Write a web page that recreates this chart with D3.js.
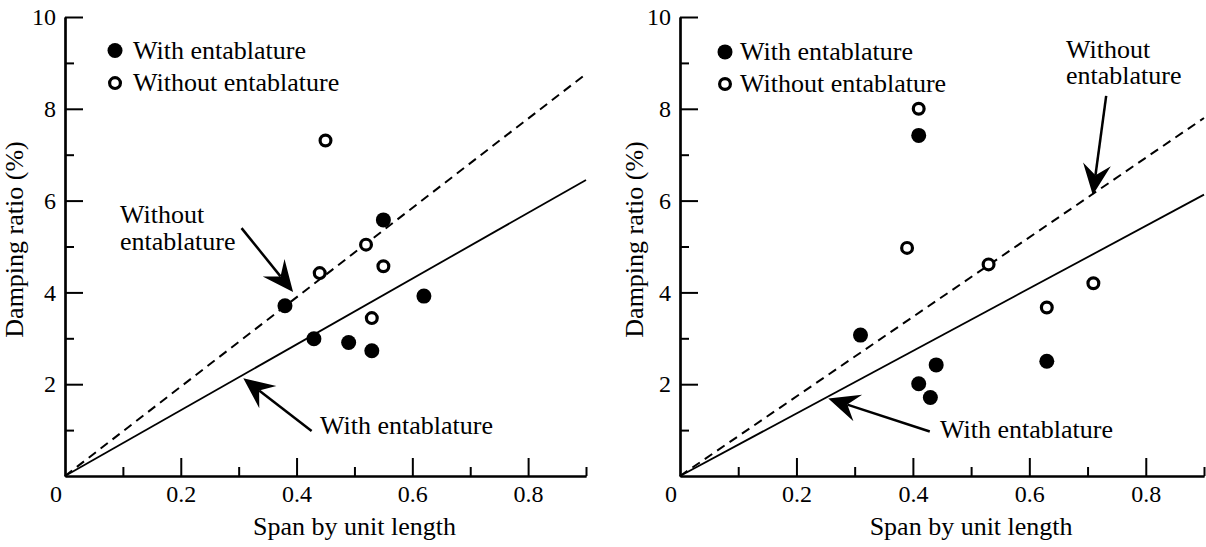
<!DOCTYPE html>
<html><head><meta charset="utf-8">
<script src="https://cdn.jsdelivr.net/npm/d3@7"></script>
<style>
body{margin:0;background:#fff}
svg{display:block;background:#fff}
svg text{font-family:"Liberation Serif","Times New Roman",serif !important;fill:#000}
</style>
</head><body><svg id="c" width="1206" height="547"></svg>
<script>
// ---- data ----
const xMajorTicks = [0.2, 0.4, 0.6, 0.8];
const xMinorTicks = [0.1, 0.3, 0.5, 0.7, 0.9];
const yMajorTicks = [2, 4, 6, 8, 10];
const yMinorTicks = [1, 3, 5, 7, 9];
const zeroLabel = "0";
const xLabel = "Span by unit length";
const yLabel = "Damping ratio (%)";
const seriesNames = ["With entablature", "Without entablature"];
const annWithoutLines = ["Without", "entablature"];
const annWithText = "With entablature";

const leftWithX = [0.38, 0.43, 0.49, 0.53, 0.55, 0.62];
const leftWithY = [3.71, 2.99, 2.91, 2.73, 5.58, 3.92];
const leftWithoutX = [0.44, 0.45, 0.52, 0.53, 0.55];
const leftWithoutY = [4.42, 7.31, 5.04, 3.44, 4.57];

const rightWithX = [0.31, 0.41, 0.41, 0.43, 0.44, 0.63];
const rightWithY = [3.07, 7.42, 2.01, 1.71, 2.42, 2.50];
const rightWithoutX = [0.39, 0.41, 0.53, 0.63, 0.71];
const rightWithoutY = [4.97, 8.00, 4.61, 3.67, 4.20];

// fitted lines through the origin
const fitSpan = [0, 0.9];
const leftFitWith = [0, 6.45];
const leftFitWithout = [0, 8.76];
const rightFitWith = [0, 6.13];
const rightFitWithout = [0, 7.80];

// ---- layout ----
const FONT = '"Liberation Serif", "Times New Roman", serif';
const svg = d3.select("#c").style("font-family", FONT);
svg.append("rect").attr("width", 1206).attr("height", 547).attr("fill", "#fff");

const panels = [
  { xr: [65, 586], yr: [476, 17],
    withX: leftWithX, withY: leftWithY, woX: leftWithoutX, woY: leftWithoutY,
    fitWith: leftFitWith, fitWo: leftFitWithout,
    legend: { x: 0.0864, y: [9.27, 8.56], gap: 18 },
    titleX: 23,
    annWo: { t: [0.095, 5.51], from: [0.305, 5.40], to: [0.394, 4.01] },
    annWi: { t: [0.4405, 0.914], from: [0.426, 0.98], to: [0.308, 2.13] } },
  { xr: [680, 1204], yr: [476, 17],
    withX: rightWithX, withY: rightWithY, woX: rightWithoutX, woY: rightWithoutY,
    fitWith: rightFitWith, fitWo: rightFitWithout,
    legend: { x: 0.0773, y: [9.24, 8.54], gap: 15 },
    titleX: 643,
    annWo: { t: [0.663, 9.11], from: [0.732, 8.28], to: [0.709, 6.12] },
    annWi: { t: [0.4466, 0.836], from: [0.429, 0.97], to: [0.2547, 1.69] } }
];

function arrow(g, x1, y1, x2, y2) {
  const dx = x2 - x1, dy = y2 - y1, len = Math.hypot(dx, dy);
  const ux = dx / len, uy = dy / len, nx = -uy, ny = ux;
  const L = 31, W = 14, N = 20;
  g.append("line").attr("x1", x1).attr("y1", y1)
    .attr("x2", x2 - ux * N).attr("y2", y2 - uy * N)
    .attr("stroke", "#000").attr("stroke-width", 2.5);
  const pts = [
    [x2, y2],
    [x2 - ux * L + nx * W, y2 - uy * L + ny * W],
    [x2 - ux * N, y2 - uy * N],
    [x2 - ux * L - nx * W, y2 - uy * L - ny * W]
  ];
  g.append("path").attr("d", d3.line()(pts) + "Z").attr("fill", "#000");
}

function openMarker(sel) {
  return sel.attr("r", 5.4).attr("fill", "#fff").attr("stroke", "#000").attr("stroke-width", 3.2);
}

panels.forEach(p => {
  const x = d3.scaleLinear().domain([0, 0.9]).range(p.xr);
  const y = d3.scaleLinear().domain([0, 10]).range(p.yr);
  const g = svg.append("g");

  // minor ticks
  g.append("g").attr("transform", `translate(0,${y(0)})`)
    .call(d3.axisBottom(x).tickValues(xMinorTicks).tickSizeInner(-9).tickSizeOuter(0).tickFormat(""));
  g.append("g").attr("transform", `translate(${x(0)},0)`)
    .call(d3.axisLeft(y).tickValues(yMinorTicks).tickSizeInner(-9).tickSizeOuter(0).tickFormat(""));
  // major ticks
  g.append("g").attr("transform", `translate(0,${y(0)})`)
    .call(d3.axisBottom(x).tickValues(xMajorTicks).tickSizeInner(-18).tickSizeOuter(0).tickPadding(9).tickFormat(d3.format(".1f")));
  g.append("g").attr("transform", `translate(${x(0)},0)`)
    .call(d3.axisLeft(y).tickValues(yMajorTicks).tickSizeInner(-18).tickSizeOuter(0).tickPadding(9).tickFormat(d3.format("d")));
  g.selectAll(".domain").attr("stroke", "#000").attr("stroke-width", 2.2);
  g.selectAll(".tick line").attr("stroke", "#000").attr("stroke-width", 2);
  g.selectAll(".tick text").attr("font-size", 24).attr("fill", "#000").style("font-family", FONT);

  g.append("text").attr("x", x(0) - 3).attr("y", y(0) + 26)
    .attr("text-anchor", "end").attr("font-size", 24).text(zeroLabel);

  // axis titles
  g.append("text").attr("x", x(0.5)).attr("y", 535).attr("text-anchor", "middle")
    .attr("font-size", 26).text(xLabel);
  g.append("text").attr("transform", `translate(${p.titleX},${y(5) - 7}) rotate(-90)`)
    .attr("text-anchor", "middle").attr("font-size", 26).text(yLabel);

  // fit lines
  const lineGen = d3.line().x(d => x(d[0])).y(d => y(d[1]));
  g.append("path").attr("d", lineGen(d3.zip(fitSpan, p.fitWith)))
    .attr("fill", "none").attr("stroke", "#000").attr("stroke-width", 1.8);
  g.append("path").attr("d", lineGen(d3.zip(fitSpan, p.fitWo)))
    .attr("fill", "none").attr("stroke", "#000").attr("stroke-width", 2)
    .attr("stroke-dasharray", "9,6");

  // points
  g.selectAll(".pw").data(d3.zip(p.withX, p.withY)).join("circle")
    .attr("cx", d => x(d[0])).attr("cy", d => y(d[1])).attr("r", 7.5).attr("fill", "#000");
  openMarker(g.selectAll(".po").data(d3.zip(p.woX, p.woY)).join("circle")
    .attr("cx", d => x(d[0])).attr("cy", d => y(d[1])));

  // legend
  seriesNames.forEach((name, i) => {
    const cx = x(p.legend.x), cy = y(p.legend.y[i]);
    if (i === 0) g.append("circle").attr("cx", cx).attr("cy", cy).attr("r", 7.5).attr("fill", "#000");
    else openMarker(g.append("circle").attr("cx", cx).attr("cy", cy));
    g.append("text").attr("x", cx + p.legend.gap).attr("y", cy + 8)
      .attr("font-size", 26).text(name);
  });

  // annotations
  const t1 = g.append("text").attr("font-size", 26);
  annWithoutLines.forEach((s, i) => {
    t1.append("tspan").attr("x", x(p.annWo.t[0])).attr("y", y(p.annWo.t[1]) + i * 26.5).text(s);
  });
  arrow(g, x(p.annWo.from[0]), y(p.annWo.from[1]), x(p.annWo.to[0]), y(p.annWo.to[1]));
  g.append("text").attr("x", x(p.annWi.t[0])).attr("y", y(p.annWi.t[1]))
    .attr("font-size", 26).text(annWithText);
  arrow(g, x(p.annWi.from[0]), y(p.annWi.from[1]), x(p.annWi.to[0]), y(p.annWi.to[1]));
});
</script></body></html>
